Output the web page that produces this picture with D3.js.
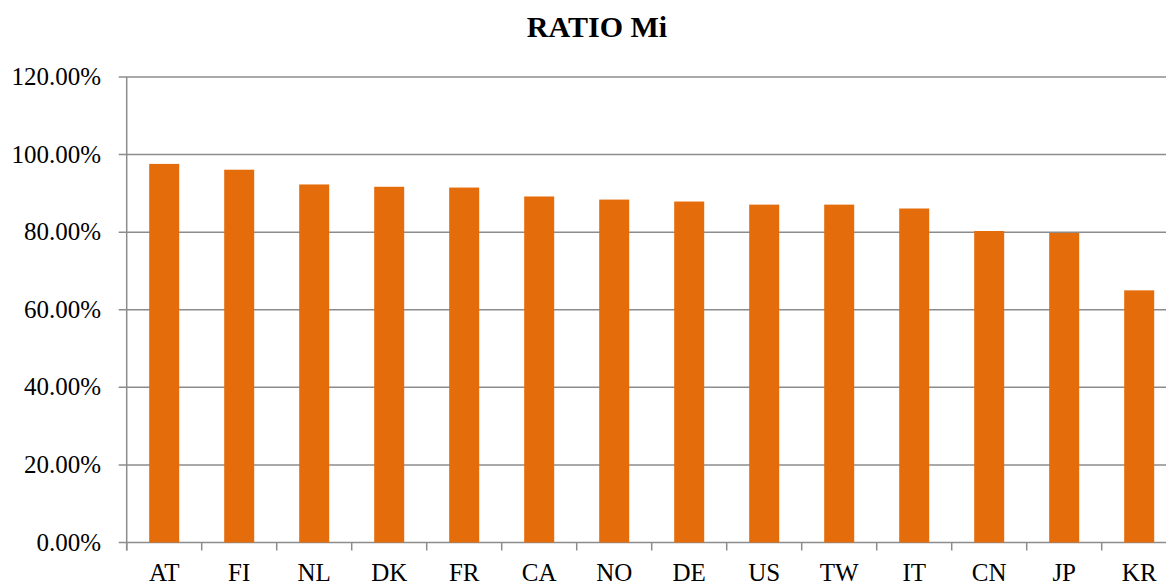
<!DOCTYPE html>
<html>
<head>
<meta charset="utf-8">
<script src="https://d3js.org/d3.v7.min.js"></script>
<style>
  body { margin: 0; background: #fff; }
  svg text { font-family: "Liberation Serif", "DejaVu Serif", serif; fill: #000; }
</style>
</head>
<body>
<div id="my_dataviz"></div>
<script>
// data
var countries = ["AT", "FI", "NL", "DK", "FR", "CA", "NO", "DE", "US", "TW", "IT", "CN", "JP", "KR"]
var ratioMi = [0.976, 0.961, 0.923, 0.917, 0.915, 0.892, 0.884, 0.879, 0.871, 0.871, 0.861, 0.803, 0.798, 0.650]
var yTicks = [0, 0.2, 0.4, 0.6, 0.8, 1.0, 1.2]

var width = 1166, height = 584
var plotLeft = 126.7, plotTop = 77, plotBottom = 542.5
var band = 75
var serif = "'Liberation Serif', 'DejaVu Serif', serif"

var svg = d3.select("#my_dataviz")
  .append("svg")
    .attr("width", width)
    .attr("height", height)

var x = d3.scaleBand()
  .domain(countries)
  .range([plotLeft, plotLeft + band * countries.length])
  .paddingInner(0.6)
  .paddingOuter(0.3)

var y = d3.scaleLinear()
  .domain([0, 1.2])
  .range([plotBottom, plotTop])

var grey = "#8c8c8c"

// horizontal gridlines with the left tick marks
svg.append("g")
  .selectAll("line")
  .data(yTicks)
  .enter()
  .append("line")
    .attr("x1", plotLeft - 8)
    .attr("x2", width)
    .attr("y1", function(d) { return y(d) })
    .attr("y2", function(d) { return y(d) })
    .attr("stroke", grey)
    .attr("stroke-width", 1.5)

// y labels
svg.append("g")
  .selectAll("text")
  .data(yTicks)
  .enter()
  .append("text")
    .attr("x", 101)
    .attr("y", function(d) { return y(d) + 8 })
    .attr("text-anchor", "end")
    .style("font-family", serif)
    .style("font-size", "25px")
    .text(function(d) { return d3.format(".2%")(d) })

// bars
svg.append("g")
  .selectAll("rect")
  .data(ratioMi)
  .enter()
  .append("rect")
    .attr("x", function(d, i) { return x(countries[i]) })
    .attr("y", function(d) { return y(d) })
    .attr("width", x.bandwidth())
    .attr("height", function(d) { return y(0) - y(d) })
    .attr("fill", "#e46c0a")

// y axis line
svg.append("line")
  .attr("x1", plotLeft).attr("x2", plotLeft)
  .attr("y1", plotTop).attr("y2", plotBottom + 8)
  .attr("stroke", grey)
  .attr("stroke-width", 1.5)

// x tick marks at band boundaries
svg.append("g")
  .selectAll("line")
  .data(d3.range(countries.length + 1))
  .enter()
  .append("line")
    .attr("x1", function(i) { return plotLeft + i * band })
    .attr("x2", function(i) { return plotLeft + i * band })
    .attr("y1", plotBottom)
    .attr("y2", plotBottom + 8)
    .attr("stroke", grey)
    .attr("stroke-width", 1.5)

// x labels (the reference crops them at the bottom edge; keep caps visible)
svg.append("g")
  .selectAll("text")
  .data(countries)
  .enter()
  .append("text")
    .attr("x", function(d) { return x(d) + x.bandwidth() / 2 })
    .attr("y", 581)
    .attr("text-anchor", "middle")
    .style("font-family", serif)
    .style("font-size", "25px")
    .text(function(d) { return d })

// title
svg.append("text")
  .attr("x", 597)
  .attr("y", 37)
  .attr("text-anchor", "middle")
  .style("font-family", serif)
  .style("font-size", "30px")
  .style("font-weight", "bold")
  .text("RATIO Mi")
</script>
</body>
</html>
